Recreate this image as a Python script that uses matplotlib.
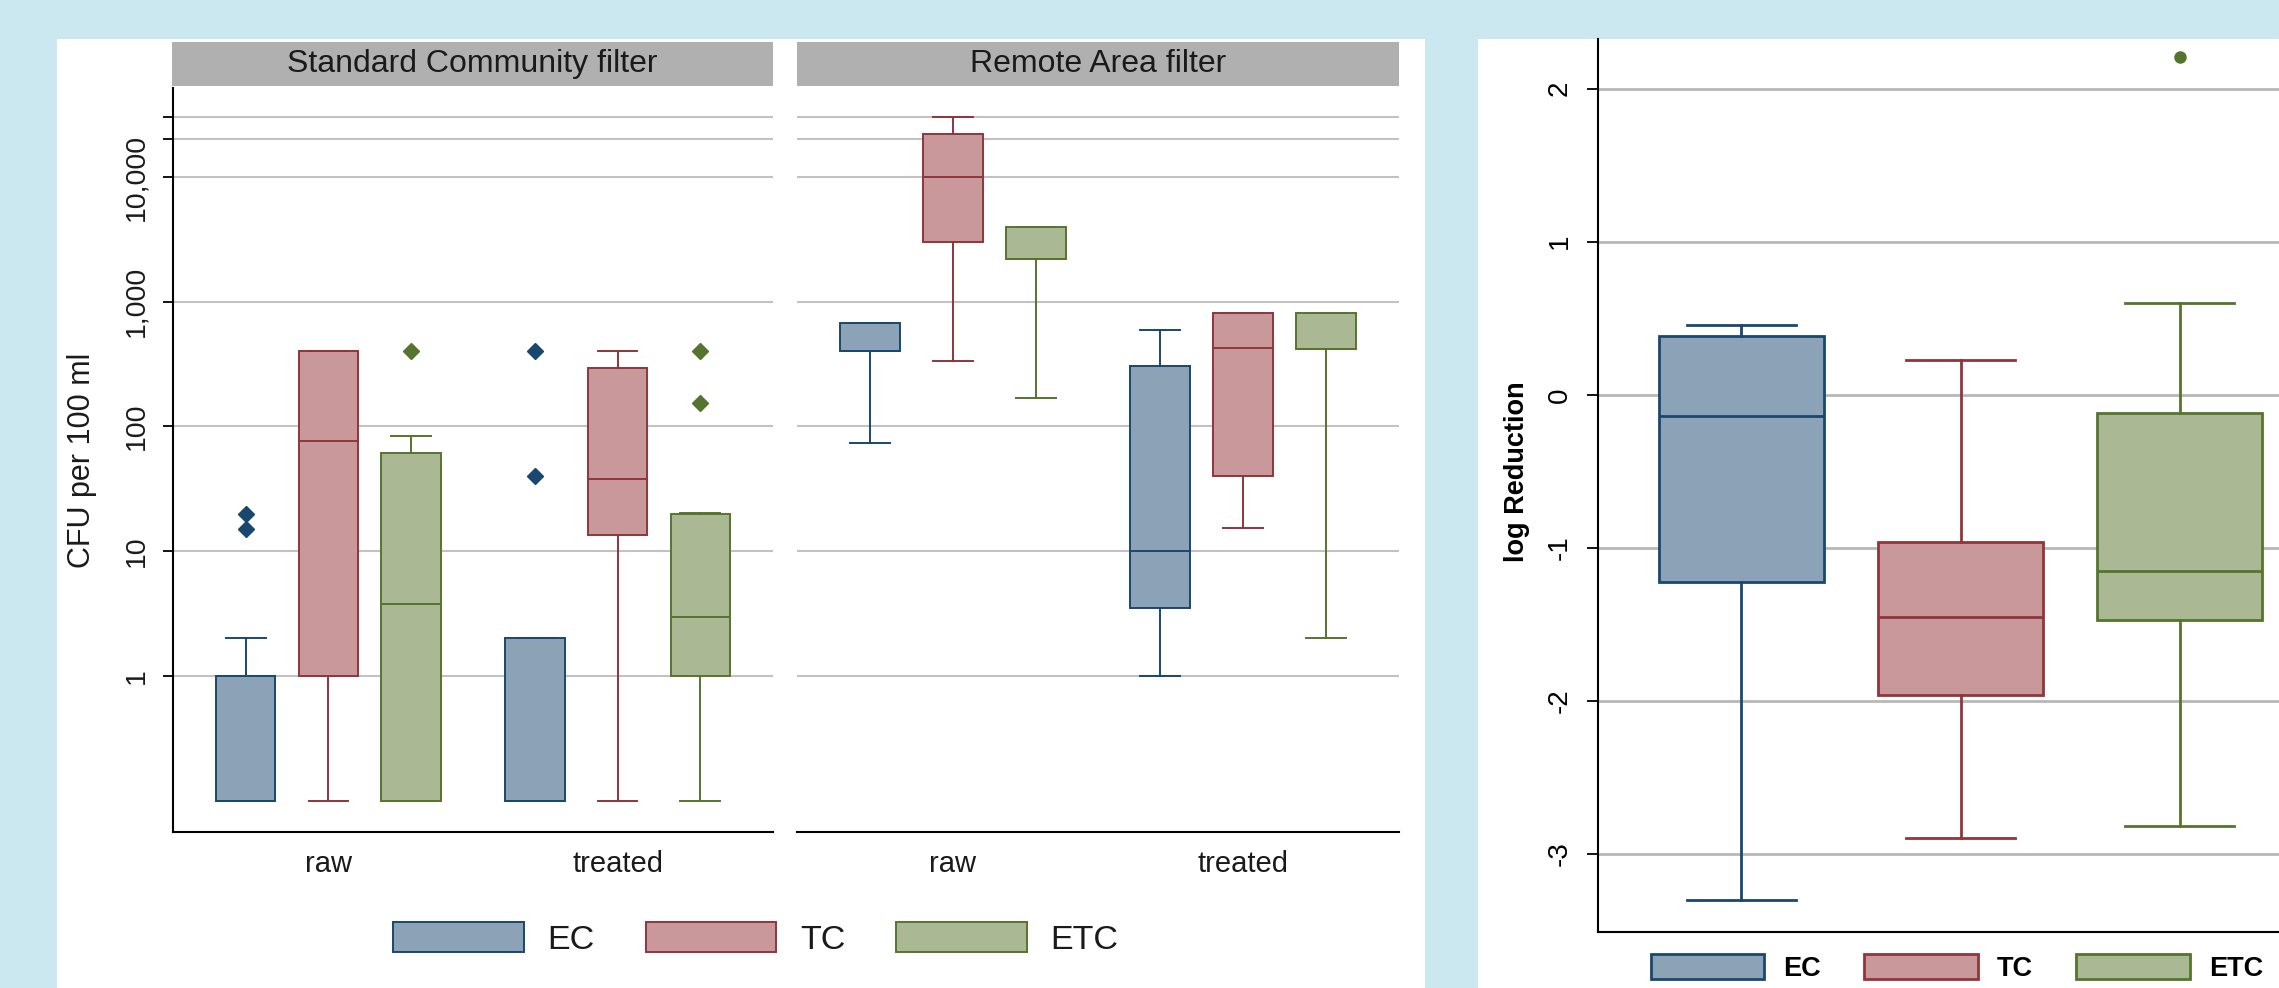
import matplotlib
matplotlib.use("Agg")
import matplotlib.pyplot as plt
from matplotlib.patches import Rectangle, Patch
from matplotlib.ticker import NullLocator

plt.rcParams['font.family'] = ['Liberation Sans', 'DejaVu Sans']
plt.rcParams['axes.unicode_minus'] = False

# ---- data (zero counts are drawn at 0.1) ----
series = ["EC", "TC", "ETC"]
groups = ["raw", "treated"]
panels = ["Standard Community filter", "Remote Area filter"]

# order inside each list: [raw, treated] per series
sc_q1 = {"EC": [0.1, 0.1], "TC": [1, 13.5], "ETC": [0.1, 1]}
sc_med = {"EC": [0.1, 0.1], "TC": [76, 38], "ETC": [3.8, 3]}
sc_q3 = {"EC": [1, 2], "TC": [400, 295], "ETC": [61, 20]}
sc_lo = {"EC": [0.1, 0.1], "TC": [0.1, 0.1], "ETC": [0.1, 0.1]}
sc_hi = {"EC": [2, 2], "TC": [400, 400], "ETC": [84, 20.4]}
sc_out = {"EC": [[15, 20], [40, 400]], "TC": [[], []], "ETC": [[400], [155, 400]]}

ra_q1 = {"EC": [400, 3.5], "TC": [3000, 40], "ETC": [2200, 420]}
ra_med = {"EC": [400, 10], "TC": [10000, 425], "ETC": [2200, 420]}
ra_q3 = {"EC": [670, 308], "TC": [21900, 807], "ETC": [4000, 807]}
ra_lo = {"EC": [74, 1], "TC": [337, 15.4], "ETC": [168, 2]}
ra_hi = {"EC": [670, 590], "TC": [30000, 807], "ETC": [4000, 807]}
ra_out = {"EC": [[], []], "TC": [[], []], "ETC": [[], []]}

cfu_ticks = [1, 10, 100, 1000, 10000, 20000, 30000]
cfu_labels = ["1", "10", "100", "1,000", "10,000", "", ""]

# log reduction, one box per series
lr_q1 = [-1.226, -1.959, -1.473]
lr_med = [-0.14, -1.453, -1.152]
lr_q3 = [0.387, -0.959, -0.119]
lr_lo = [-3.30, -2.897, -2.819]
lr_hi = [0.453, 0.226, 0.601]
lr_out = [[], [], [2.21]]
lr_ticks = [-3, -2, -1, 0, 1, 2]

edge = {"EC": "#1a476f", "TC": "#90353b", "ETC": "#55752f"}
fill = {"EC": "#8ca2b7", "TC": "#c8989b", "ETC": "#aab993"}

W, H = 2279, 988
fig = plt.figure(figsize=(W / 100, H / 100), dpi=100)
fig.patch.set_facecolor("#cbe7ef")


def fx(px):
    return px / W


def fy(py):
    return 1 - py / H


# white slide panels
fig.add_artist(Rectangle((fx(57), 0), fx(1425 - 57), fy(39), transform=fig.transFigure,
                         facecolor="white", edgecolor="none", zorder=-5))
fig.add_artist(Rectangle((fx(1478), 0), fx(W - 1478), fy(39), transform=fig.transFigure,
                         facecolor="white", edgecolor="none", zorder=-5))

txt = "#1a1a1a"
grid_c = "#c2c2c2"


def draw_boxes(ax, pos, q1, med, q3, lo, hi, out, name, width, capw, lw, marker, ms):
    stats = []
    for i in range(len(pos)):
        stats.append(dict(q1=q1[i], med=med[i], q3=q3[i], whislo=lo[i], whishi=hi[i],
                          fliers=out[i]))
    c = edge[name]
    ax.bxp(stats, positions=pos, widths=width, capwidths=capw, patch_artist=True,
           showfliers=True, manage_ticks=False,
           boxprops=dict(facecolor=fill[name], edgecolor=c, linewidth=lw),
           medianprops=dict(color=c, linewidth=lw),
           whiskerprops=dict(color=c, linewidth=lw),
           capprops=dict(color=c, linewidth=lw),
           flierprops=dict(marker=marker, markerfacecolor=c, markeredgecolor=c,
                           markersize=ms, linestyle="none"))


# ---- left: two facets on log scale ----
offsets = {"EC": 0, "TC": 1, "ETC": 2}
group_start = [1, 4.5]
ax_left = [173, 797]
ax_w = [600, 602]
strip_x = [172, 796.5]
strip_w = [601, 602.5]
axes = []
for k, panel in enumerate(panels):
    ax = fig.add_axes([fx(ax_left[k]), fy(832), fx(ax_w[k]), (832 - 88) / H])
    axes.append(ax)
    ax.set_yscale("log")
    ax.set_ylim(10 ** -1.25, 10 ** 4.713)
    ax.set_xlim(0.12, 7.38)
    ax.set_axisbelow(True)
    ax.yaxis.set_minor_locator(NullLocator())
    ax.set_yticks(cfu_ticks)
    ax.set_yticklabels(cfu_labels)
    ax.grid(axis="y", color=grid_c, linewidth=1.5)
    ax.set_xticks([g + 1 for g in group_start])
    ax.set_xticklabels(groups)
    ax.tick_params(axis="x", length=0, pad=13, labelsize=21, labelcolor=txt)
    for s in ["top", "right"]:
        ax.spines[s].set_visible(False)
    ax.spines["bottom"].set_linewidth(1.5)
    ax.spines["left"].set_linewidth(1.5)

    if k == 0:
        q1, med, q3, lo, hi, out = sc_q1, sc_med, sc_q3, sc_lo, sc_hi, sc_out
        ax.tick_params(axis="y", length=7, width=1.3, pad=10, labelsize=20.5,
                       labelrotation=90, labelcolor=txt)
        for lab in ax.get_yticklabels():
            lab.set_va("center")
        ax.set_ylabel("CFU per 100 ml", fontsize=22, color=txt, va="center")
        ax.yaxis.set_label_coords((82 - 173) / 600, 0.5)
    else:
        q1, med, q3, lo, hi, out = ra_q1, ra_med, ra_q3, ra_lo, ra_hi, ra_out
        ax.tick_params(axis="y", left=False, labelleft=False)
        ax.spines["left"].set_visible(False)

    for name in series:
        pos = [g + offsets[name] for g in group_start]
        draw_boxes(ax, pos, q1[name], med[name], q3[name], lo[name], hi[name], out[name],
                   name, 0.72, 0.48, 1.4, "D", 8.5)

    sax = fig.add_axes([fx(strip_x[k]), fy(86), fx(strip_w[k]), 44 / H])
    sax.set_facecolor("#b0b0b0")
    sax.set_xticks([])
    sax.set_yticks([])
    for s in sax.spines.values():
        s.set_visible(False)
    sax.text(0.5, 0.5, panel, transform=sax.transAxes, ha="center", va="center",
             fontsize=23, color=txt)

handles = [Patch(facecolor=fill[n], edgecolor=edge[n], linewidth=1.4, label=n) for n in series]
fig.legend(handles=handles, loc="center", bbox_to_anchor=(fx(756), fy(939)), ncol=3,
           frameon=False, fontsize=24.5, handlelength=3.83, handleheight=0.99,
           handletextpad=0.7, columnspacing=1.5, labelcolor=txt)

# ---- right: log reduction ----
ax3 = fig.add_axes([fx(1598), fy(932), fx(725), (932 - 39) / H])
ax3.set_ylim(-3.511, 2.325)
ax3.set_xlim(0.345, 3.655)
ax3.set_axisbelow(True)
ax3.set_yticks(lr_ticks)
ax3.set_yticklabels([str(t) for t in lr_ticks])
ax3.grid(axis="y", color="#b8b8b8", linewidth=2)
ax3.set_xticks([])
for s in ["top", "right"]:
    ax3.spines[s].set_visible(False)
ax3.spines["bottom"].set_linewidth(1.5)
ax3.spines["left"].set_linewidth(1.5)
ax3.tick_params(axis="y", length=8, width=1.3, pad=10, labelsize=20, labelrotation=90,
                labelcolor="black")
for lab in ax3.get_yticklabels():
    lab.set_va("center")
ax3.set_ylabel("log Reduction", fontsize=19.5, fontweight="bold", va="center")
ax3.yaxis.set_label_coords((1517 - 1598) / 725, 0.515)
for i, name in enumerate(series):
    draw_boxes(ax3, [i + 1], [lr_q1[i]], [lr_med[i]], [lr_q3[i]], [lr_lo[i]], [lr_hi[i]],
               [lr_out[i]], name, 0.75, 0.5, 2.0, "o", 8)

# legend sits at the bottom edge; nudged up a little so its labels stay whole
handles_r = [Patch(facecolor=fill[n], edgecolor=edge[n], linewidth=2, label=n) for n in series]
leg = fig.legend(handles=handles_r, loc="center", bbox_to_anchor=(fx(1957), fy(968)), ncol=3,
                 frameon=False, fontsize=19.5, handlelength=4.2, handleheight=1.0,
                 handletextpad=0.7, columnspacing=1.6, borderpad=0.2)
for t in leg.get_texts():
    t.set_fontweight("bold")

fig.savefig("out.png", dpi=100, facecolor=fig.get_facecolor())
